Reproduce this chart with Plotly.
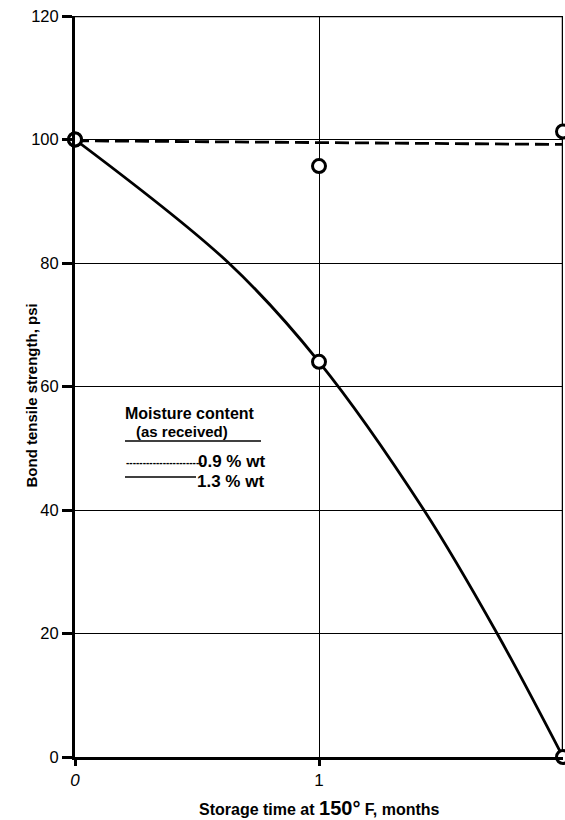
import plotly.graph_objects as go

# Data
months = [0, 1, 2]
strength_09 = [100, 95.7, 101.3]          # 0.9 % wt points
strength_13 = [100, 64, 0]                 # 1.3 % wt points
fit09_x = [0, 2]
fit09_y = [99.8, 99.2]                     # dashed trend (0.9 % wt)
fit13_x = [0, 0.63, 1, 1.43, 1.73, 2]
fit13_y = [100, 80, 64, 40, 20, 0]         # solid curve (1.3 % wt)
y_ticks = [0, 20, 40, 60, 80, 100, 120]
x_ticks = [0, 1]
x_ticklabels = ["<i>0</i>", "1"]

FONT = "Liberation Sans, Arial, sans-serif"

fig = go.Figure()
fig.add_trace(go.Scatter(x=fit09_x, y=fit09_y, mode="lines",
                         line=dict(color="black", width=2.8, dash="14px,6px"),
                         hoverinfo="skip", showlegend=False))
fig.add_trace(go.Scatter(x=fit13_x, y=fit13_y, mode="lines", line_shape="spline",
                         line=dict(color="black", width=2.8, smoothing=1.0),
                         hoverinfo="skip", showlegend=False))
fig.add_trace(go.Scatter(x=months, y=strength_09, mode="markers", cliponaxis=False,
                         marker=dict(size=13, color="white", symbol="circle",
                                     line=dict(color="black", width=3)),
                         showlegend=False))
fig.add_trace(go.Scatter(x=months, y=strength_13, mode="markers", cliponaxis=False,
                         marker=dict(size=13, color="white", symbol="circle",
                                     line=dict(color="black", width=3)),
                         showlegend=False))

# frame lines (top and right)
fig.add_shape(type="line", xref="x", yref="y", x0=0, x1=2, y0=120, y1=120,
              line=dict(color="black", width=2.5), layer="below")
fig.add_shape(type="line", xref="x", yref="y", x0=2, x1=2, y0=0, y1=120,
              line=dict(color="black", width=2.5), layer="below")

# legend block
def ax(px):
    return (px - 75) / 244.0

def ay(py):
    return (757 - py) / 6.175

fig.add_annotation(x=ax(190), y=ay(413), xref="x", yref="y", text="<b>Moisture content</b>",
                   showarrow=False, font=dict(family=FONT, size=16, color="black"))
fig.add_annotation(x=ax(182), y=ay(431), xref="x", yref="y", text="<b>(as received)</b>",
                   showarrow=False, font=dict(family=FONT, size=15, color="black"))
fig.add_shape(type="line", xref="x", yref="y", x0=ax(125), x1=ax(261), y0=ay(441), y1=ay(441),
              line=dict(color="black", width=1.5))
fig.add_annotation(x=ax(124), y=ay(462), xref="x", yref="y", xanchor="left",
                   text="<b>-----------------------</b>",
                   showarrow=False, font=dict(family=FONT, size=10, color="black"))
fig.add_annotation(x=ax(196), y=ay(461), xref="x", yref="y", xanchor="left",
                   text="<b>0.9 % wt</b>",
                   showarrow=False, font=dict(family=FONT, size=17, color="black"))
fig.add_shape(type="line", xref="x", yref="y", x0=ax(125), x1=ax(196), y0=ay(477), y1=ay(477),
              line=dict(color="black", width=1.3))
fig.add_annotation(x=ax(195), y=ay(481), xref="x", yref="y", xanchor="left",
                   text="<b>1.3 % wt</b>",
                   showarrow=False, font=dict(family=FONT, size=17, color="black"))

# axis titles
fig.add_annotation(x=1.0, y=0, xref="x", yref="y", yshift=-51,
                   text="<b>Storage time at <span style='font-size:20px'>150°</span> F, months</b>",
                   showarrow=False, font=dict(family=FONT, size=16, color="black"))
fig.add_annotation(x=0, y=ay(396), xref="paper", yref="y", xshift=-55, textangle=-90,
                   text="<b>Bond tensile strength, psi</b>",
                   showarrow=False, font=dict(family=FONT, size=15, color="black"))

fig.update_xaxes(range=[0, 2], tickvals=x_ticks, ticktext=x_ticklabels,
                 showgrid=True, gridcolor="black", gridwidth=1.2,
                 showline=True, linecolor="black", linewidth=3,
                 ticks="outside", ticklen=6, tickwidth=2.5, tickcolor="black",
                 zeroline=False,
                 tickfont=dict(family=FONT, size=17, color="black"))
fig.update_yaxes(range=[0, 120], tickvals=y_ticks,
                 showgrid=True, gridcolor="black", gridwidth=1.2,
                 showline=True, linecolor="black", linewidth=3,
                 ticks="outside", ticklen=10, tickwidth=2.5, tickcolor="black",
                 zeroline=False,
                 tickfont=dict(family=FONT, size=16.5, color="black"))

fig.update_layout(width=565, height=820, plot_bgcolor="white", paper_bgcolor="white",
                  margin=dict(l=75, r=2, t=16, b=63), showlegend=False)

fig.write_html("out.html", config={"displayModeBar": False},
               post_script="document.body.style.margin='0';document.body.style.overflow='hidden';")
